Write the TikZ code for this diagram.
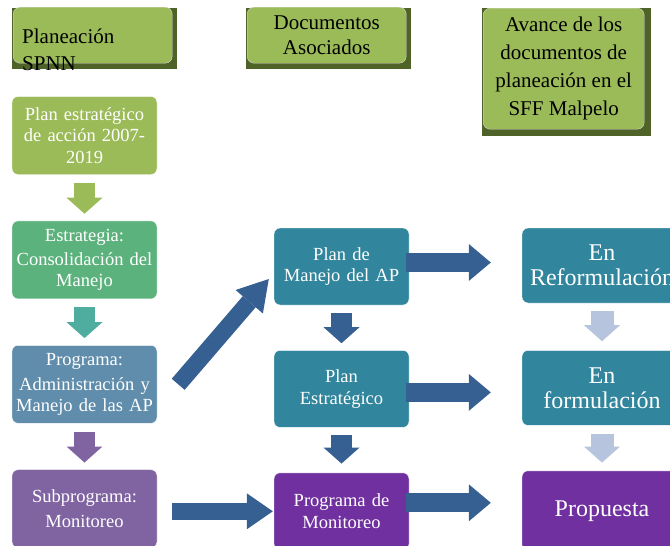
\documentclass[tikz,border=0pt]{standalone}
\usepackage{fontspec}
\setmainfont{Liberation Serif}
\usetikzlibrary{arrows.meta, positioning, backgrounds}
\definecolor{hdrgreen}{RGB}{155,187,89}
\definecolor{hdrshade}{RGB}{79,98,40}
\definecolor{estgreen}{RGB}{92,178,124}
\definecolor{estarrow}{RGB}{79,173,160}
\definecolor{progblue}{RGB}{96,141,171}
\definecolor{subpurple}{RGB}{128,100,162}
\definecolor{docteal}{RGB}{49,133,156}
\definecolor{docpurple}{RGB}{112,48,160}
\definecolor{arrowblue}{RGB}{55,96,146}
\definecolor{arrowlight}{RGB}{183,196,222}

\begin{document}
\begin{tikzpicture}[
    x=1pt, y=-1pt,
    node distance=46pt,
    header/.style={rectangle, draw=white!85!black, rounded corners=7pt, fill=hdrgreen, inner sep=0pt,
                   align=center, font=\fontsize{21}{25}\selectfont},
    block/.style={rectangle, draw=white, rounded corners=6pt, minimum width=145pt, minimum height=78pt,
                  text width=140pt, inner sep=0pt, align=center, text=white, font=\fontsize{18.5}{21.5}\selectfont},
    docblock/.style={block, minimum width=135pt, minimum height=77pt, text width=130pt, fill=docteal},
    stateblock/.style={block, minimum width=160pt, minimum height=75pt, text width=156pt, fill=docteal,
                       font=\fontsize{24}{25}\selectfont},
    downarrow/.style={draw=#1, line width=21pt, -{Triangle[width=36pt, length=16pt, line width=0pt]}},
    sidearrow/.style={draw=arrowblue, line width=19pt, -{Triangle[width=37pt, length=22pt, line width=0pt]}}
]
    \useasboundingbox (0,0) rectangle (670,546);
    \clip (0,0) rectangle (670,546);

    % column headers
    \node[header, minimum width=159pt, minimum height=56pt, anchor=north west] (spnn) at (13,7) {};
    \node[header, minimum width=159pt, minimum height=56pt, anchor=north west] (docs) at (247,7)
        {Documentos\\Asociados};
    \node[header, minimum width=161pt, minimum height=121pt, anchor=north west,
          font=\fontsize{21}{28}\selectfont] (avance) at (483,8)
        {Avance de los\\documentos de\\planeación en el\\SFF Malpelo};
    \begin{scope}[on background layer]
        \fill[hdrshade] ([shift={(-1pt,-1pt)}]spnn.north west) rectangle ([shift={(5pt,-6pt)}]spnn.south east);
        \fill[hdrshade] ([shift={(-1pt,-1pt)}]docs.north west) rectangle ([shift={(5pt,-6pt)}]docs.south east);
        \fill[hdrshade] ([shift={(-1pt,0pt)}]avance.north west) rectangle ([shift={(7pt,-7pt)}]avance.south east);
    \end{scope}
    \node[anchor=north west, inner sep=0pt, align=left, font=\fontsize{21}{27}\selectfont] (spnnText)
        at (22,29) {Planeación\\SPNN};

    % planeacion SPNN
    \node[block, fill=hdrgreen] (plan) at (84.5,135.5) {Plan estratégico\\de acción 2007-\\2019};
    \node[block, fill=estgreen, below=of plan] (estrategia) {Estrategia:\\[2.5pt]Consolidación del\\Manejo};
    \node[block, fill=progblue, below=of estrategia] (programa) {Programa:\\[3.5pt]Administración y\\Manejo de las AP};
    \node[block, fill=subpurple, below=of programa] (subprograma) {Subprograma:\\[3.5pt]Monitoreo};

    % documentos asociados
    \node[docblock] (manejo) at (341.5,266.5) {Plan de\\Manejo del AP};
    \node[docblock, below=45pt of manejo] (estrategico) {Plan\\Estratégico};
    \node[docblock, fill=docpurple, below=45pt of estrategico] (monitoreo) {Programa de\\Monitoreo};

    % avance
    \node[stateblock] (reform) at (602,265.5) {En\\Reformulación};
    \node[stateblock, below=47pt of reform] (formul) {En\\formulación};
    \node[stateblock, fill=docpurple, minimum height=80pt, below=45pt of formul] (propuesta) {Propuesta};

    \draw[downarrow=hdrgreen] ([yshift=-8pt]plan.south) -- ([yshift=7pt]estrategia.north);
    \draw[downarrow=estarrow] ([yshift=-8pt]estrategia.south) -- ([yshift=7pt]programa.north);
    \draw[downarrow=subpurple] ([yshift=-8pt]programa.south) -- ([yshift=7pt]subprograma.north);
    \draw[downarrow=arrowblue] ([yshift=-8pt]manejo.south) -- ([yshift=7pt]estrategico.north);
    \draw[downarrow=arrowblue] ([yshift=-7pt]estrategico.south) -- ([yshift=9pt]monitoreo.north);
    \draw[downarrow=arrowlight, line width=23pt] ([yshift=-8pt]reform.south) -- ([yshift=9pt]formul.north);
    \draw[downarrow=arrowlight, line width=23pt] ([yshift=-8pt]formul.south) -- ([yshift=8pt]propuesta.north);

    \draw[sidearrow] ([xshift=-3pt, yshift=4pt]manejo.east) -- ([xshift=-31pt, yshift=3pt]reform.west);
    \draw[sidearrow] ([xshift=-3pt, yshift=-3.5pt]estrategico.east) -- ([xshift=-31pt, yshift=-4.5pt]formul.west);
    \draw[sidearrow] ([xshift=-3pt, yshift=8.5pt]monitoreo.east) -- ([xshift=-31pt, yshift=8pt]propuesta.west);
    \draw[sidearrow, line width=17pt, -{Triangle[width=36pt, length=26pt, line width=0pt]}]
        ([xshift=15pt]subprograma.east |- monitoreo.west) -- ([xshift=-1pt]monitoreo.west);
    \draw[sidearrow, line width=17pt, -{Triangle[width=36pt, length=30pt, line width=0pt]}]
        ([xshift=21pt]programa.east) -- ([xshift=-5pt, yshift=-12.5pt]manejo.west);
\end{tikzpicture}
\end{document}
